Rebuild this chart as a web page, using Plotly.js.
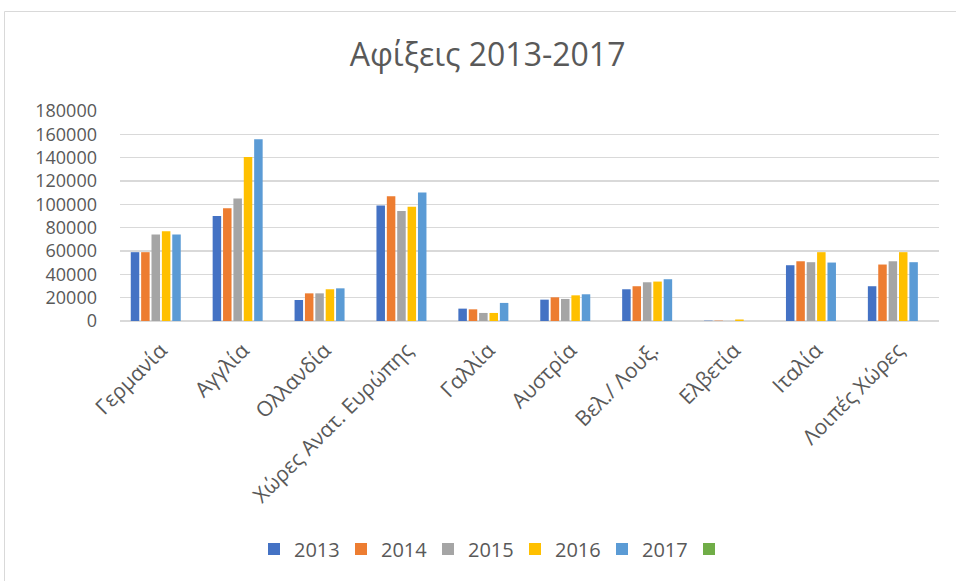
<!DOCTYPE html>
<html>
<head>
<meta charset="utf-8">
<script src="https://cdn.plot.ly/plotly-3.0.1.min.js"></script>
<style>html,body{margin:0;padding:0;background:#fff;}#chart{width:956px;height:581px;}</style>
</head>
<body>
<div id="chart"></div>
<script>
const categories = ["Γερμανία", "Αγγλία", "Ολλανδία", "Χώρες Ανατ. Ευρώπης", "Γαλλία", "Αυστρία", "Βελ./ Λουξ.", "Ελβετία", "Ιταλία", "Λοιπές Χώρες"];
const seriesNames = ["2013", "2014", "2015", "2016", "2017", " "];
const v2013 = [59000, 90000, 18000, 99000, 10600, 18300, 27200, 300, 47800, 29800];
const v2014 = [59000, 96700, 23700, 107000, 10000, 20300, 29800, 300, 51200, 48400];
const v2015 = [74100, 105000, 23700, 94200, 6900, 18900, 33200, 0, 50400, 51200];
const v2016 = [77000, 140500, 27200, 97900, 6900, 22000, 33800, 1300, 59000, 59000];
const v2017 = [74100, 155700, 28000, 110200, 15500, 22900, 35800, 0, 50100, 50400];
const vBlank = [null, null, null, null, null, null, null, null, null, null];
const colors = ["#4472C4", "#ED7D31", "#A5A5A5", "#FFC000", "#5B9BD5", "#70AD47"];
const yTicks = [0, 20000, 40000, 60000, 80000, 100000, 120000, 140000, 160000, 180000];

const allValues = [v2013, v2014, v2015, v2016, v2017, vBlank];
const data = allValues.map((vals, i) => ({
  type: "bar",
  name: seriesNames[i],
  x: categories,
  y: vals,
  marker: {color: colors[i]},
  hoverinfo: "x+y+name"
}));

const font = "'Open Sans', 'Noto Sans', sans-serif";
const layout = {
  width: 956, height: 581,
  paper_bgcolor: "#ffffff", plot_bgcolor: "#ffffff",
  margin: {l: 120, r: 17, t: 111, b: 260, pad: 0, autoexpand: false},
  barmode: "group",
  bargap: 0.24,
  bargroupgap: 0.18,
  font: {family: font, color: "#595959"},
  title: {text: "Αφίξεις 2013-2017", font: {family: font, size: 32, color: "#595959"},
          x: 0.51, xanchor: "center", y: 1 - 55/581, yanchor: "middle", yref: "container"},
  xaxis: {type: "category", tickangle: -45, tickfont: {size: 21, color: "#595959"},
          showgrid: false, showline: false, ticks: "", ticklabelstandoff: 12, automargin: false},
  yaxis: {range: [0, 180000], tickvals: yTicks, ticktext: yTicks.map(String),
          tickfont: {size: 18, color: "#595959"}, showgrid: true, gridcolor: "#d9d9d9", gridwidth: 1.3,
          zeroline: true, zerolinecolor: "#d9d9d9", zerolinewidth: 1.3, showline: false, ticks: "", ticklabelstandoff: 22, automargin: false},
  legend: {orientation: "h", xref: "container", yref: "container", x: 254/956, xanchor: "left", y: 1 - 549/581, yanchor: "middle",
           font: {size: 20, color: "#595959"}, entrywidth: 42, entrywidthmode: "pixels",
           itemwidth: 30, traceorder: "normal", bgcolor: "rgba(0,0,0,0)"},
  shapes: [{type: "rect", xref: "paper", yref: "paper",
            x0: (4.5-120)/819, x1: (1000-120)/819, y0: (321-700)/210, y1: (321-11.5)/210,
            line: {color: "#d9d9d9", width: 1}, fillcolor: "rgba(0,0,0,0)", layer: "below"}],
  showlegend: true
};

Plotly.newPlot("chart", data, layout, {displayModeBar: false, staticPlot: true});
</script>
</body>
</html>
